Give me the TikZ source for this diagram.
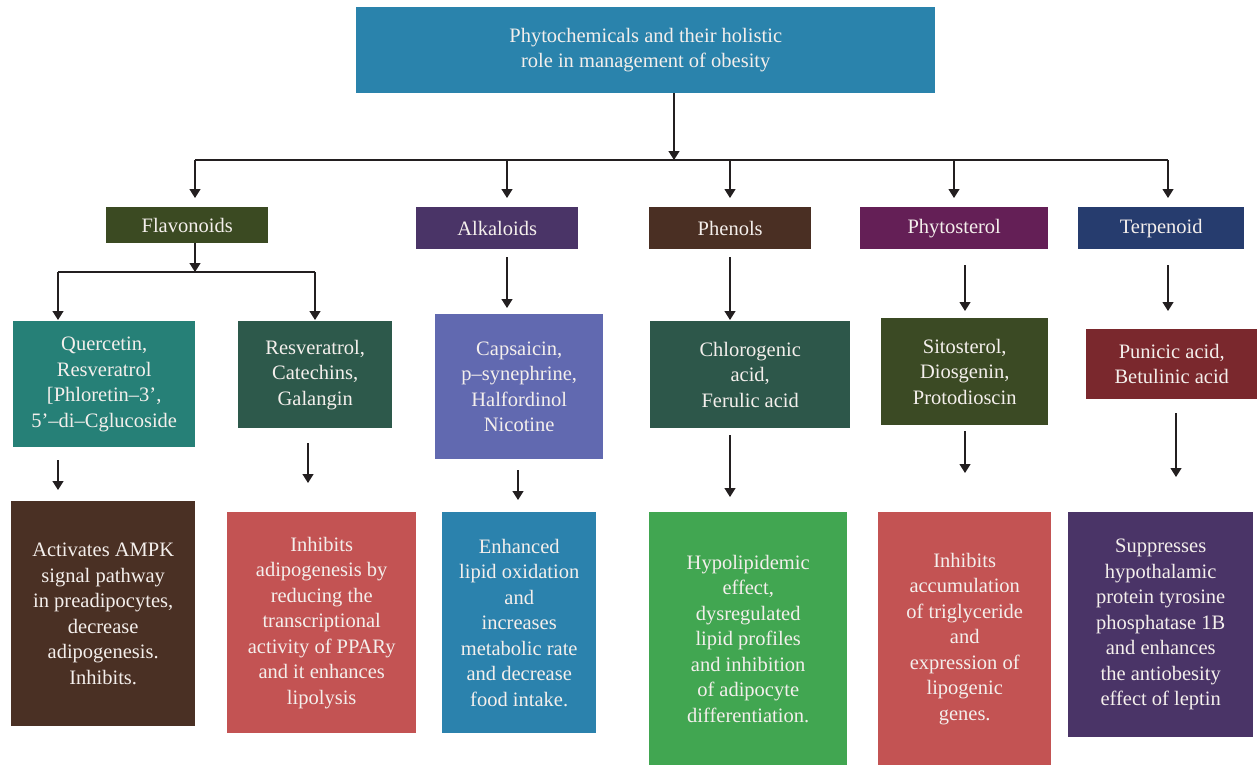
\documentclass[tikz,border=0pt]{standalone}
\usepackage{fontspec}
\setmainfont{Liberation Serif}
\usetikzlibrary{arrows.meta}
\definecolor{cTop}{HTML}{2A83AC}
\definecolor{cFlav}{HTML}{3B4A22}
\definecolor{cAlk}{HTML}{4A3467}
\definecolor{cPhen}{HTML}{4A2F23}
\definecolor{cPhyt}{HTML}{641F56}
\definecolor{cTerp}{HTML}{263C6E}
\definecolor{cQuer}{HTML}{268077}
\definecolor{cResv}{HTML}{2D594B}
\definecolor{cCaps}{HTML}{6169B0}
\definecolor{cChlo}{HTML}{2D574A}
\definecolor{cSito}{HTML}{3B4A24}
\definecolor{cPuni}{HTML}{7A282D}
\definecolor{cAct}{HTML}{4A3024}
\definecolor{cInh}{HTML}{C35353}
\definecolor{cEnh}{HTML}{2B82AD}
\definecolor{cHypo}{HTML}{41A651}
\definecolor{cSupp}{HTML}{4A3467}
\definecolor{cLine}{HTML}{231F20}
\definecolor{cText}{HTML}{F4EFEC}
\tikzset{
  box/.style={anchor=north west, inner sep=0pt, align=center, text=cText,
    font=\fontsize{20.5}{25.5}\selectfont},
  arr/.style={-{Triangle[width=11pt,length=9pt]}, line width=1.3pt, draw=cLine},
  wire/.style={line width=1.3pt, draw=cLine},
}
\begin{document}
\begin{tikzpicture}[x=1pt,y=-1pt]
\useasboundingbox (0,0) rectangle (1257,765);
% top
\node[box, fill=cTop, minimum width=579pt, minimum height=86pt] (top) at (356,7)
  {Phytochemicals and their holistic\\role in management of obesity};
% categories
\node[box, fill=cFlav, minimum width=162pt, minimum height=36pt] (flav) at (106,207) {Flavonoids};
\node[box, fill=cAlk, minimum width=162pt, minimum height=42pt] (alk) at (416,207) {Alkaloids};
\node[box, fill=cPhen, minimum width=162pt, minimum height=42pt] (phen) at (649,207) {Phenols};
\node[box, fill=cPhyt, minimum width=188pt, minimum height=42pt] (phyt) at (860,207) {Phytosterol};
\node[box, fill=cTerp, minimum width=166pt, minimum height=42pt] (terp) at (1078,207) {Terpenoid};
% compounds
\node[box, fill=cQuer, minimum width=182pt, minimum height=126pt] (quer) at (13,321)
  {Quercetin,\\Resveratrol\\{[}Phloretin–3’,\\5’–di–Cglucoside};
\node[box, fill=cResv, minimum width=154pt, minimum height=107pt] (resv) at (238,321)
  {Resveratrol,\\Catechins,\\Galangin};
\node[box, fill=cCaps, minimum width=168pt, minimum height=145pt] (caps) at (435,314)
  {Capsaicin,\\p–synephrine,\\Halfordinol\\Nicotine};
\node[box, fill=cChlo, minimum width=200pt, minimum height=107pt] (chlo) at (650,321)
  {Chlorogenic\\acid,\\Ferulic acid};
\node[box, fill=cSito, minimum width=167pt, minimum height=107pt] (sito) at (881,318)
  {Sitosterol,\\Diosgenin,\\Protodioscin};
\node[box, fill=cPuni, minimum width=171pt, minimum height=70pt] (puni) at (1086,329)
  {Punicic acid,\\Betulinic acid};
% effects
\node[box, fill=cAct, minimum width=184pt, minimum height=225pt] (act) at (11,501)
  {Activates AMPK\\signal pathway\\in preadipocytes,\\decrease\\adipogenesis.\\Inhibits.};
\node[box, fill=cInh, minimum width=189pt, minimum height=221pt] (inh1) at (227,512)
  {Inhibits\\adipogenesis by\\reducing the\\transcriptional\\activity of PPARy\\and it enhances\\lipolysis};
\node[box, fill=cEnh, minimum width=154pt, minimum height=221pt] (enh) at (442,512)
  {Enhanced\\lipid oxidation\\and\\increases\\metabolic rate\\and decrease\\food intake.};
\node[box, fill=cHypo, minimum width=198pt, minimum height=253pt] (hypo) at (649,512)
  {Hypolipidemic\\effect,\\dysregulated\\lipid profiles\\and inhibition\\of adipocyte\\differentiation.};
\node[box, fill=cInh, minimum width=173pt, minimum height=253pt] (inh2) at (878,512)
  {Inhibits\\accumulation\\of triglyceride\\and\\expression of\\lipogenic\\genes.};
\node[box, fill=cSupp, minimum width=185pt, minimum height=225pt] (supp) at (1068,512)
  {Suppresses\\hypothalamic\\protein tyrosine\\phosphatase 1B\\and enhances\\the antiobesity\\effect of leptin};
% column coordinates
\coordinate (bus) at (674,160);
\coordinate (xf) at (195,0);
\coordinate (xa) at (507,0);
\coordinate (xp) at (730,0);
\coordinate (xs) at (954,0);
\coordinate (xs2) at (965,0);
\coordinate (xt) at (1168,0);
\coordinate (fbus) at (195,272);
\coordinate (xq) at (58,0);
\coordinate (xr) at (315,0);
\coordinate (xr2) at (308,0);
\coordinate (xc) at (518,0);
\coordinate (xpu) at (1176,0);
% top to bus
\draw[arr] (top.south -| bus) -- (bus);
\draw[wire] (bus -| xf) -- (bus -| xt);
\draw[arr, shorten >=9pt] (bus -| xf) -- (flav.north -| xf);
\draw[arr, shorten >=9pt] (bus -| xa) -- (alk.north -| xa);
\draw[arr, shorten >=9pt] (bus -| xp) -- (phen.north -| xp);
\draw[arr, shorten >=9pt] (bus -| xs) -- (phyt.north -| xs);
\draw[arr, shorten >=9pt] (bus -| xt) -- (terp.north -| xt);
% flavonoids split
\draw[arr] (flav.south -| fbus) -- (fbus);
\draw[wire] (fbus -| xq) -- (fbus -| xr);
\draw[arr, shorten >=1pt] (fbus -| xq) -- (quer.north -| xq);
\draw[arr, shorten >=1pt] (fbus -| xr) -- (resv.north -| xr);
% category to compound
\draw[arr, shorten <=8pt, shorten >=6pt] (alk.south -| xa) -- (caps.north -| xa);
\draw[arr, shorten <=8pt, shorten >=1pt] (phen.south -| xp) -- (chlo.north -| xp);
\draw[arr, shorten <=16pt, shorten >=7pt] (phyt.south -| xs2) -- (sito.north -| xs2);
\draw[arr, shorten <=16pt, shorten >=18pt] (terp.south -| xt) -- (puni.north -| xt);
% compound to effect
\draw[arr, shorten <=13pt, shorten >=11pt] (quer.south -| xq) -- (act.north -| xq);
\draw[arr, shorten <=15pt, shorten >=29pt] (resv.south -| xr2) -- (inh1.north -| xr2);
\draw[arr, shorten <=11pt, shorten >=12pt] (caps.south -| xc) -- (enh.north -| xc);
\draw[arr, shorten <=7pt, shorten >=15pt] (chlo.south -| xp) -- (hypo.north -| xp);
\draw[arr, shorten <=6pt, shorten >=39pt] (sito.south -| xs2) -- (inh2.north -| xs2);
\draw[arr, shorten <=14pt, shorten >=35pt] (puni.south -| xpu) -- (supp.north -| xpu);
\end{tikzpicture}
\end{document}
